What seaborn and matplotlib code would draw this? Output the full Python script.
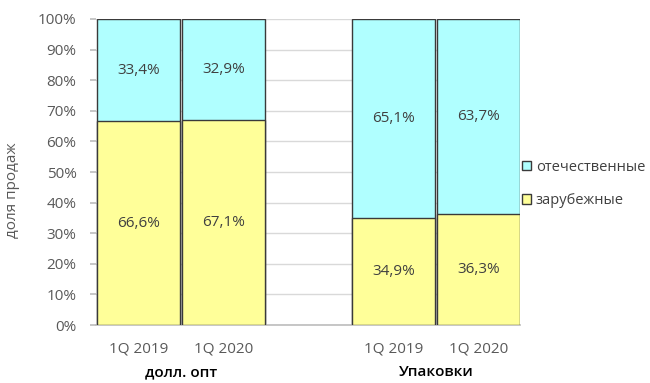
import matplotlib
matplotlib.use("Agg")
import matplotlib.pyplot as plt
import numpy as np
import pandas as pd
import seaborn as sns
from matplotlib.patches import Patch

sns.set_theme(style="white")
plt.rcParams["font.family"] = ["Open Sans", "DejaVu Sans"]

# ---------------------------------------------------------------- data
groups = ["долл. опт", "Упаковки"]
periods = ["1Q 2019", "1Q 2020"]
foreign = [66.6, 67.1, 34.9, 36.3]      # зарубежные, %
domestic = [33.4, 32.9, 65.1, 63.7]     # отечественные, %
series_names = ["отечественные", "зарубежные"]

C_DOM = "#B0FFFF"
C_FOR = "#FFFF99"
EDGE = "#3a3a3a"

# bar slots: two bars per group, one empty slot between groups
pos = [g * 3 + i for g in range(len(groups)) for i in range(len(periods))]
df = pd.DataFrame({
    "pos": pos,
    "period": periods * len(groups),
    "foreign": foreign,
    "domestic": domestic,
})
df["total"] = df["foreign"] + df["domestic"]

fig = plt.figure(figsize=(6.5, 3.83), dpi=100)
ax = fig.add_axes([0.1477, 0.1514, 0.8 - 0.1477, 0.9504 - 0.1514])

sns.barplot(data=df, x="pos", y="total", native_scale=True, width=0.976,
            color=C_DOM, saturation=1, edgecolor=EDGE, linewidth=1, ax=ax, zorder=2)
sns.barplot(data=df, x="pos", y="foreign", native_scale=True, width=0.976,
            color=C_FOR, saturation=1, edgecolor=EDGE, linewidth=1, ax=ax, zorder=3)

# segment labels
for _, row in df.iterrows():
    ax.text(row["pos"], row["foreign"] / 2, f"{row['foreign']:.1f}%".replace(".", ","),
            ha="center", va="center", fontsize=11, color="#404040", zorder=4)
    ax.text(row["pos"], row["foreign"] + row["domestic"] / 2,
            f"{row['domestic']:.1f}%".replace(".", ","),
            ha="center", va="center", fontsize=11, color="#404040", zorder=4)

ax.set_xlim(-0.5, 4.49)
ax.set_ylim(0, 100)
ax.set_yticks(np.arange(0, 101, 10))
ax.set_yticklabels([f"{v}%" for v in range(0, 101, 10)])
ax.set_xticks(df["pos"])
ax.set_xticklabels(df["period"])
ax.set_xlabel("")
ax.set_ylabel("")
ax.yaxis.grid(True, color="#D9D9D9", lw=1, zorder=0)
ax.set_axisbelow(True)
for s in ["left", "right", "top"]:
    ax.spines[s].set_visible(False)
ax.spines["bottom"].set_color("#BFBFBF")
ax.tick_params(axis="y", length=4, color="#BFBFBF", labelsize=11,
               labelcolor="#595959", pad=10, left=True)
ax.tick_params(axis="x", length=0, labelsize=11, labelcolor="#595959", pad=12)

# group labels
for g, name in enumerate(groups):
    ax.text(g * 3 + 0.5, -0.155, name, transform=ax.get_xaxis_transform(),
            ha="center", va="center", fontsize=11, color="black",
            fontweight="semibold")

fig.text(12 / 650, 1 - 190 / 383, "доля продаж", rotation=90,
         ha="center", va="center", fontsize=11, color="#595959")

handles = [Patch(facecolor=C_DOM, edgecolor=EDGE, lw=1),
           Patch(facecolor=C_FOR, edgecolor=EDGE, lw=1)]
fig.legend(handles, series_names, loc="center left",
           bbox_to_anchor=(522 / 650, 1 - 184 / 383), frameon=False,
           borderpad=0, borderaxespad=0,
           fontsize=10.5, handlelength=0.65, handleheight=0.65,
           handletextpad=0.3, labelspacing=1.3, labelcolor="#404040")

fig.savefig("out.png", dpi=100)
